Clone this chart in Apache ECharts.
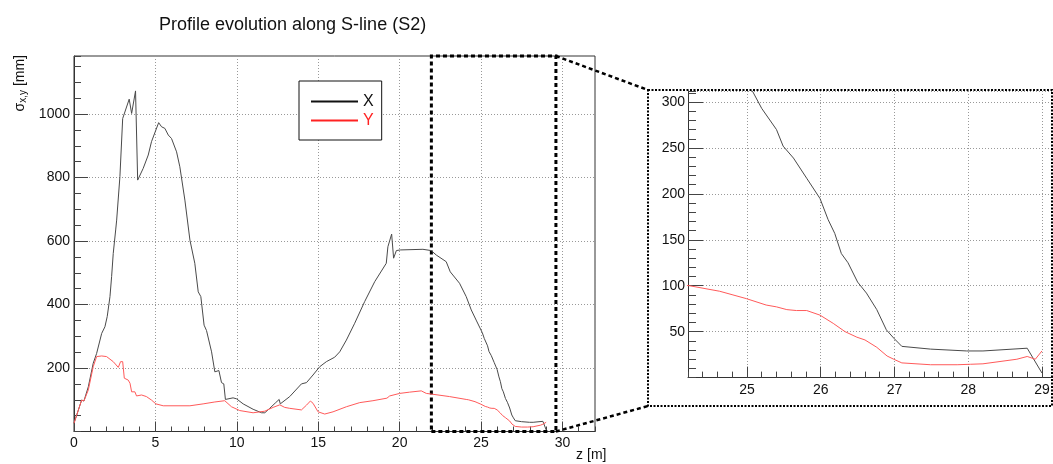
<!DOCTYPE html>
<html>
<head>
<meta charset="utf-8">
<title>Profile evolution along S-line (S2)</title>
<script src="https://cdn.jsdelivr.net/npm/echarts@6/dist/echarts.min.js"></script>
<style>
    html, body { margin: 0; padding: 0; background: #fff; }
    #chart { width: 1053px; height: 464px; }
</style>
</head>
<body>
<div id="chart"></div>
<script>
// beam size along the line
var zX = [0, 0.47, 0.61, 0.88, 1.18, 1.39, 1.7, 1.9, 2.04, 2.21, 2.31, 2.41, 2.56, 2.62, 2.82, 2.99, 3.09, 3.39, 3.54, 3.78,
    3.91, 4.25, 4.56, 4.76, 5.03, 5.2, 5.38, 5.58, 5.79, 5.99, 6.3, 6.5, 6.81, 7.12, 7.42, 7.63, 7.79, 7.99, 8.14, 8.45,
    8.65, 8.9, 9.06, 9.2, 9.3, 9.77, 9.98, 10.39, 11.0, 11.52, 11.72, 12.02, 12.39, 12.6, 12.67, 13.25, 13.97, 14.28, 14.68, 15.09,
    15.5, 16.01, 16.32, 16.73, 17.24, 17.85, 18.47, 19.18, 19.28, 19.51, 19.63, 19.8, 20.04, 21.43, 21.94, 22.25, 22.86, 23.11, 23.68, 24.09,
    24.4, 24.7, 25.08, 25.2, 25.4, 25.49, 25.63, 25.81, 25.99, 26.1, 26.19, 26.28, 26.37, 26.5, 26.62, 26.76, 26.89, 26.99, 27.1, 27.49,
    27.98, 28.2, 28.8, 29.0];
var sigmaX = [26, 99, 96, 141, 215, 246, 309, 330, 362, 425, 488, 561, 635, 666, 803, 986, 990, 1047, 1002, 1073,
    792, 829, 871, 913, 950, 973, 960, 955, 934, 923, 881, 834, 729, 603, 530, 440, 425, 335, 318, 251,
    188, 192, 154, 150, 101, 106, 103, 87, 70, 59, 59, 73, 91, 101, 87, 110, 150, 154, 178, 204,
    220, 234, 251, 288, 341, 409, 472, 530, 582, 622, 546, 570, 572, 574, 570, 556, 535, 503, 467, 425,
    383, 351, 311, 293, 270, 252, 239, 217, 195, 172, 157, 135, 125, 104, 92, 74, 52, 43, 34, 31,
    29, 29, 32, 5];
var zY = [0, 0.47, 0.61, 0.88, 1.18, 1.39, 1.7, 2.0, 2.41, 2.72, 2.86, 2.99, 3.09, 3.33, 3.44, 3.54, 3.74, 3.84, 4.15, 4.45,
    4.76, 5.03, 5.48, 7.12, 7.93, 8.65, 9.26, 9.67, 10.18, 11.0, 11.72, 12.23, 12.64, 12.94, 13.25, 13.97, 14.28, 14.52, 14.68, 14.99,
    15.4, 15.91, 16.73, 17.55, 18.36, 19.22, 19.39, 20.0, 20.61, 21.33, 21.64, 21.94, 23.07, 24.09, 24.22, 24.63, 24.81, 24.99, 25.26, 25.4,
    25.54, 25.67, 25.81, 25.99, 26.17, 26.33, 26.49, 26.6, 26.76, 26.9, 26.99, 27.1, 27.49, 27.85, 28.03, 28.2, 28.66, 28.8, 28.91, 29.0];
var sigmaY = [26, 99, 96, 131, 204, 236, 238, 236, 220, 202, 220, 220, 168, 162, 152, 125, 125, 112, 115, 110,
    99, 87, 81, 81, 87, 93, 97, 78, 66, 59, 64, 76, 84, 76, 73, 68, 83, 96, 89, 62,
    55, 62, 78, 91, 97, 105, 112, 120, 124, 128, 120, 118, 110, 101, 100, 94, 90, 86, 79, 77,
    74, 73, 73, 68, 59, 50, 44, 41, 33, 23.5, 20, 16, 14, 14, 14.5, 15, 20, 23, 20, 29];

// axis ranges: main view and the zoomed view on the right
var mainZRange = [0, 32];
var mainSigmaRange = [0, 1183];
var zoomZRange = [24.2, 29.15];
var zoomSigmaRange = [0, 312];
// the region that is blown up
var zoomBox = [21.95, 29.6];

var FONT = 'Liberation Sans';
var colorX = '#4a4a4a';
var colorY = '#ff5a5a';

// tiny extend, only what is needed here
var $ = { extend: function (a, b) { for (var k in b) { a[k] = b[k]; } return a; } };

function pairs(xs, ys) {
    var out = [];
    for (var i = 0; i < xs.length; i++) {
        out.push([xs[i], ys[i]]);
    }
    return out;
}

// main axis: labels, grid lines, long ticks
function majorAxis(opts) {
    return $.extend({
        type: 'value',
        axisLine: { show: true, lineStyle: { color: '#333', width: 1 } },
        axisTick: { inside: true, length: opts.tickLen, lineStyle: { color: '#444' } },
        axisLabel: {
            fontFamily: FONT, fontSize: 14, color: '#111', margin: opts.margin,
            showMinLabel: opts.showMinLabel, showMaxLabel: false,
            formatter: function (v) { return String(v); }   // no 1,000
        },
        splitLine: { show: true, lineStyle: { color: '#999', width: 1, type: [1, 2] } }
    }, opts.extra);
}

// helper axis that only draws the short ticks
function minorAxis(opts) {
    return $.extend({
        type: 'value',
        axisLine: { show: false },
        axisTick: { inside: true, length: opts.tickLen, lineStyle: { color: '#444' } },
        axisLabel: { show: false },
        splitLine: { show: false }
    }, opts.extra);
}

var chart = echarts.init(document.getElementById('chart'));

var option = {
    animation: false,
    backgroundColor: '#fff',
    title: {
        text: 'Profile evolution along S-line (S2)',
        left: 154,
        top: 11,
        textStyle: { fontFamily: FONT, fontSize: 18, fontWeight: 'normal', color: '#111' }
    },
    legend: {
        orient: 'vertical',
        left: 299,
        top: 81,
        padding: [12, 8, 11, 12],
        itemGap: 2,
        itemWidth: 47,
        itemHeight: 2,
        itemTextGap: 7,
        icon: 'rect',
        backgroundColor: '#fff',
        borderColor: '#111',
        borderWidth: 1,
        selectedMode: false,
        textStyle: { fontFamily: FONT, fontSize: 16, lineHeight: 17 },
        data: [
            { name: 'X', itemStyle: { color: '#111' }, textStyle: { color: '#111' } },
            { name: 'Y', itemStyle: { color: '#f22' }, textStyle: { color: '#f22' } }
        ]
    },
    grid: [
        { left: 74, right: 458, top: 56, bottom: 32.5, show: true, borderColor: '#333', borderWidth: 1, backgroundColor: '#fff' },
        { left: 688, right: 0, top: 91, bottom: 86.4 }
    ],
    xAxis: [
        majorAxis({
            tickLen: 10, margin: 5, showMinLabel: true,
            extra: {
                gridIndex: 0, position: 'bottom', min: mainZRange[0], max: mainZRange[1], interval: 5,
                name: 'z [m]', nameLocation: 'end', nameGap: 0,
                nameTextStyle: { fontFamily: FONT, fontSize: 14, color: '#111', align: 'right', verticalAlign: 'top', padding: [17, 2, 0, 0] }
            }
        }),
        minorAxis({
            tickLen: 5,
            extra: { gridIndex: 0, position: 'bottom', min: mainZRange[0], max: mainZRange[1], interval: 1 }
        }),
        majorAxis({
            tickLen: 11, margin: 6, showMinLabel: false,
            extra: { gridIndex: 1, position: 'bottom', min: zoomZRange[0], max: zoomZRange[1], splitNumber: 5 }
        }),
        minorAxis({
            tickLen: 6,
            extra: { gridIndex: 1, position: 'bottom', min: zoomZRange[0], max: zoomZRange[1], interval: 0.2 }
        })
    ],
    yAxis: [
        majorAxis({
            tickLen: 14, margin: 4, showMinLabel: false,
            extra: {
                gridIndex: 0, position: 'left', min: mainSigmaRange[0], max: mainSigmaRange[1], interval: 200,
                name: '{a|σ}{b|x,y}{a| [mm]}', nameLocation: 'end', nameRotate: 90, nameGap: 1,
                nameTextStyle: {
                    align: 'right', verticalAlign: 'bottom', padding: [0, 0, 46, 0],
                    rich: {
                        a: { fontFamily: FONT, fontSize: 14, color: '#111' },
                        b: { fontFamily: FONT, fontSize: 10, color: '#111', padding: [6, 0, 0, 0] }
                    }
                }
            }
        }),
        minorAxis({
            tickLen: 7,
            extra: { gridIndex: 0, position: 'left', min: mainSigmaRange[0], max: mainSigmaRange[1], interval: 50 }
        }),
        majorAxis({
            tickLen: 15, margin: 3, showMinLabel: false,
            extra: { gridIndex: 1, position: 'left', min: zoomSigmaRange[0], max: zoomSigmaRange[1], interval: 50 }
        }),
        minorAxis({
            tickLen: 8,
            extra: { gridIndex: 1, position: 'left', min: zoomSigmaRange[0], max: zoomSigmaRange[1], interval: 10 }
        })
    ],
    series: [
        {
            name: 'X', type: 'line', xAxisIndex: 0, yAxisIndex: 0,
            data: pairs(zX, sigmaX), symbol: 'none', color: colorX,
            lineStyle: { width: 1, color: colorX },
            markArea: {
                silent: true,
                itemStyle: { color: 'rgba(0,0,0,0)', borderColor: '#000', borderWidth: 3, borderType: [4, 3] },
                data: [[{ coord: [zoomBox[0], mainSigmaRange[0]] }, { coord: [zoomBox[1], mainSigmaRange[1]] }]]
            }
        },
        {
            name: 'Y', type: 'line', xAxisIndex: 0, yAxisIndex: 0,
            data: pairs(zY, sigmaY), symbol: 'none', color: colorY,
            lineStyle: { width: 1, color: colorY }
        },
        {
            name: 'X', type: 'line', xAxisIndex: 2, yAxisIndex: 2,
            data: pairs(zX, sigmaX), symbol: 'none', color: colorX, clip: true,
            lineStyle: { width: 1, color: colorX }
        },
        {
            name: 'Y', type: 'line', xAxisIndex: 2, yAxisIndex: 2,
            data: pairs(zY, sigmaY), symbol: 'none', color: colorY, clip: true,
            lineStyle: { width: 1, color: colorY }
        }
    ]
};

chart.setOption(option);

// dotted frame round the zoom view, and the dashed lines joining it to the box
var frame = { x: 648, y: 90, width: 404, height: 316 };
var boxTop = chart.convertToPixel({ gridIndex: 0 }, [zoomBox[1], mainSigmaRange[1]]);
var boxBottom = chart.convertToPixel({ gridIndex: 0 }, [zoomBox[1], mainSigmaRange[0]]);
var dash = { stroke: '#000', lineWidth: 2.5, lineDash: [4, 3] };

chart.setOption({
    graphic: [
        {
            type: 'rect', silent: true, z: 10,
            shape: frame,
            style: { fill: null, stroke: '#000', lineWidth: 2, lineDash: [2, 1.5] }
        },
        {
            type: 'line', silent: true, z: 10,
            shape: { x1: boxTop[0], y1: boxTop[1], x2: frame.x, y2: frame.y },
            style: dash
        },
        {
            type: 'line', silent: true, z: 10,
            shape: { x1: boxBottom[0], y1: boxBottom[1], x2: frame.x, y2: frame.y + frame.height },
            style: dash
        }
    ]
});
</script>
</body>
</html>
